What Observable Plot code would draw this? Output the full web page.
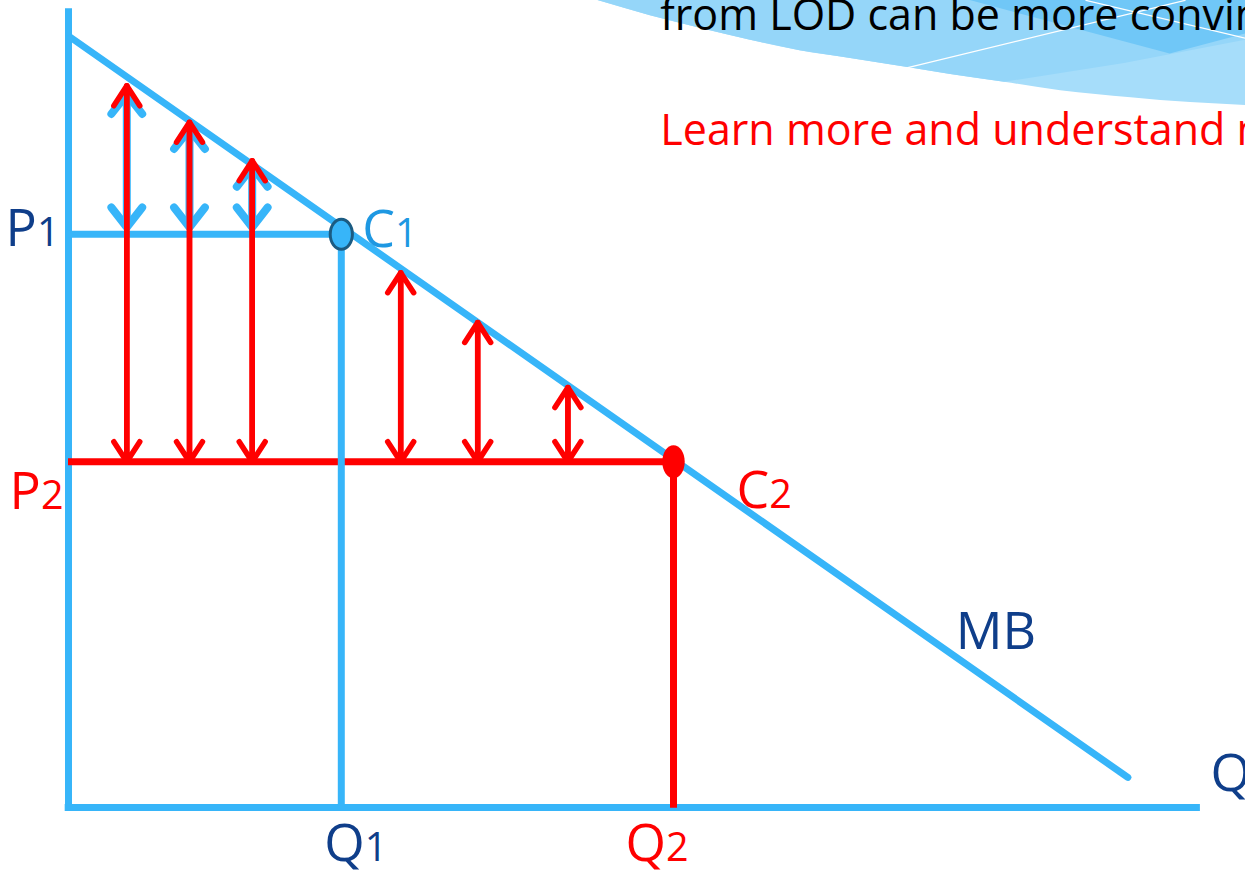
<!DOCTYPE html>
<html><head><meta charset="utf-8">
<script src="https://cdn.jsdelivr.net/npm/d3@7"></script>
<script src="https://cdn.jsdelivr.net/npm/@observablehq/plot@0.6"></script>
<style>html,body{margin:0;padding:0;overflow:hidden;background:#fff}</style>
</head><body><div id="chart"></div>
<script>
// ---- diagram values (quantity q, price p) ----
const Q1 = 24.8, Q2 = 55.0, P1 = 81.9, P2 = 49.4;
const mbQ = [0.2, 96.3];
const mbP = [110.0, 4.3];
const axisQmax = 102.9, axisPmax = 114.1;
const redArrowQ = [5.3, 11.0, 16.7, 30.2, 37.2, 45.4];
const redArrowTop = [103.1, 97.9, 92.4, 76.4, 69.3, 60.0];
const blueArrowQ = [5.3, 11.0, 16.7];
const blueArrowTop = [101.9, 96.9, 91.5];
const blueArrowBottom = 82.9;
const labelTexts = ["P1", "P2", "C1", "C2", "Q1", "Q2", "MB", "Q"];
const slideTexts = ["from LOD can be more convincing", "Learn more and understand more"];
const slideTextQ = 53.8;
const slideTextP = [111.1, 94.7];
// decorative swoosh outlines (same q,p space)
const swooshEdgeQ = [48.1, 52.9, 57.5, 62.0, 66.5, 71.1, 76.3, 80.2, 85.1, 90.2, 96.6, 102.0, 107.0];
const swooshEdgeP = [115.3, 113.1, 111.3, 109.6, 108.1, 107.0, 105.7, 104.7, 103.6, 102.4, 101.4, 100.7, 100.3];
const swooshMidQ = [48.1, 52.9, 57.5, 62.0, 66.5, 71.1, 76.3, 80.2, 85.1, 96.0, 107.0];
const swooshMidP = [115.3, 113.1, 111.3, 109.6, 108.1, 107.0, 105.7, 104.7, 103.6, 106.3, 109.6];
const swooshDarkQ = [80.4, 100.1, 107.0, 107.0];
const swooshDarkP = [116.0, 107.7, 110.6, 116.0];
const whiteLineA = {q: [76.3, 101.5], p: [105.7, 115.3]};
const whiteLineB = {q: [92.5, 107.0], p: [115.3, 109.9]};

const BLUE = "#37b5f9", NAVY = "#0f3e8a", RED = "#ff0000", CBLUE = "#1e98e2";

const zip = (Q, P) => Q.map((q, i) => ({q, p: P[i]}));
const redArrows = redArrowQ.map((q, i) => ({q, top: redArrowTop[i], bottom: P2}));
const blueArrows = blueArrowQ.map((q, i) => ({q, top: blueArrowTop[i], bottom: blueArrowBottom}));

const ellipse = (kx) => ({
  draw(ctx, size) {
    const r = Math.sqrt(size / Math.PI), rx = r * kx, ry = r, k = 0.5523;
    ctx.moveTo(rx, 0);
    ctx.bezierCurveTo(rx, k * ry, k * rx, ry, 0, ry);
    ctx.bezierCurveTo(-k * rx, ry, -rx, k * ry, -rx, 0);
    ctx.bezierCurveTo(-rx, -k * ry, -k * rx, -ry, 0, -ry);
    ctx.bezierCurveTo(k * rx, -ry, rx, -k * ry, rx, 0);
    ctx.closePath();
  }
});
// arrowhead chevron, apex at the anchor, pointing "up" before rotation
const chevron = {
  draw(ctx) {
    const a = 38 * Math.PI / 180, w = 25;
    ctx.moveTo(-w * Math.sin(a), w * Math.cos(a));
    ctx.lineTo(0, 0);
    ctx.lineTo(w * Math.sin(a), w * Math.cos(a));
  }
};

const labelSpec = [
  {q: 0, p: P1, anchor: "end", dx: -9, dy: 12, color: NAVY},
  {q: 0, p: P2, anchor: "end", dx: -5, dy: 47, color: RED},
  {q: Q1, p: P1, anchor: "start", dx: 21, dy: 13, color: CBLUE},
  {q: Q2, p: P2, anchor: "start", dx: 63, dy: 46, color: RED},
  {q: Q1, p: 0, anchor: "start", dx: -17, dy: 53, color: NAVY},
  {q: Q2, p: 0, anchor: "start", dx: -48, dy: 53, color: RED},
  {q: mbQ[1], p: mbP[1], anchor: "start", dx: -172, dy: -128, color: NAVY},
  {q: axisQmax, p: 0, anchor: "start", dx: 10, dy: -17, color: NAVY}
];

const FONT = "'Open Sans', 'Noto Sans', sans-serif";

const chart = Plot.plot({
  width: 1245, height: 871, margin: 0,
  x: {domain: [0, 100], range: [68, 1168], axis: null},
  y: {domain: [0, 100], range: [807, 107], axis: null},
  style: {background: "white"},
  marks: [
    // swoosh
    Plot.area(zip(swooshEdgeQ, swooshEdgeP), {x1: "q", y1: 117, y2: "p", fill: "#a6ddfa", curve: "monotone-x"}),
    Plot.area(zip(swooshMidQ, swooshMidP), {x1: "q", y1: 117, y2: "p", fill: "#95d6f9", curve: "linear"}),
    Plot.line(zip(swooshDarkQ, swooshDarkP), {x: "q", y: "p", fill: "#70c7f7", stroke: "none"}),
    Plot.line(zip(whiteLineA.q, whiteLineA.p), {x: "q", y: "p", stroke: "white", strokeWidth: 1.3}),
    Plot.line(zip(whiteLineB.q, whiteLineB.p), {x: "q", y: "p", stroke: "white", strokeWidth: 1.3}),
    // slide texts
    Plot.text([0], {x: () => slideTextQ, y: () => slideTextP[0], text: () => slideTexts[0], textAnchor: "start", lineAnchor: "bottom", fontSize: 43, fontFamily: FONT, fill: "black"}),
    Plot.text([0], {x: () => slideTextQ, y: () => slideTextP[1], text: () => slideTexts[1], textAnchor: "start", lineAnchor: "bottom", fontSize: 43, fontFamily: FONT, fill: RED}),
    // axes
    Plot.ruleX([0], {y1: -0.43, y2: axisPmax, stroke: BLUE, strokeWidth: 7}),
    Plot.ruleY([0], {x1: -0.3, x2: axisQmax, stroke: BLUE, strokeWidth: 7}),
    // MB curve
    Plot.line(zip(mbQ, mbP), {x: "q", y: "p", stroke: BLUE, strokeWidth: 7}),
    // P1 level
    Plot.ruleY([P1], {x1: 0, x2: Q1, stroke: BLUE, strokeWidth: 7}),
    // blue double arrows (shaft + chevrons)
    Plot.ruleX(blueArrows, {x: "q", y1: "bottom", y2: "top", stroke: BLUE, strokeWidth: 8}),
    Plot.vector(blueArrows, {x: "q", y: "top", length: 1, rotate: 0, anchor: "start", shape: chevron, stroke: BLUE, strokeWidth: 8}),
    Plot.vector(blueArrows, {x: "q", y: "bottom", length: 1, rotate: 180, anchor: "start", shape: chevron, stroke: BLUE, strokeWidth: 8}),
    // P2 level and Q2
    Plot.ruleY([P2], {x1: 0, x2: Q2, stroke: RED, strokeWidth: 7}),
    Plot.ruleX([Q2], {y1: P2, y2: -0.1, stroke: RED, strokeWidth: 7}),
    // Q1 vertical
    Plot.ruleX([Q1], {y1: 0, y2: P1, stroke: BLUE, strokeWidth: 7}),
    // red double arrows
    Plot.arrow(redArrows, {x: "q", y1: "bottom", y2: "top", stroke: RED, strokeWidth: 5.5, headLength: 6.5, headAngle: 66}),
    Plot.arrow(redArrows, {x: "q", y1: "top", y2: "bottom", stroke: RED, strokeWidth: 5.5, headLength: 6.5, headAngle: 66}),
    // equilibrium points
    Plot.dot([{q: Q1, p: P1}], {x: "q", y: "p", r: 15, symbol: ellipse(0.74), fill: BLUE, stroke: "#1b5b82", strokeWidth: 3}),
    Plot.dot([{q: Q2, p: P2}], {x: "q", y: "p", r: 16.5, symbol: ellipse(0.68), fill: RED, stroke: "none"}),
    // labels
    ...labelTexts.map((t, i) => {
      const s = labelSpec[i];
      return Plot.text([{q: s.q, p: s.p, t}], {x: "q", y: "p", text: "t", textAnchor: s.anchor, lineAnchor: "bottom",
        dx: s.dx, dy: s.dy, fill: s.color, fontSize: 52, fontFamily: FONT});
    })
  ]
});

// smaller figures after the letters (P1, C2, ...)
chart.querySelectorAll("text").forEach((el) => {
  const m = /^([A-Z]+)(\d)$/.exec(el.textContent);
  if (!m) return;
  el.textContent = m[1];
  const ts = document.createElementNS("http://www.w3.org/2000/svg", "tspan");
  ts.setAttribute("font-size", "0.76em");
  ts.textContent = m[2];
  el.appendChild(ts);
});

document.getElementById("chart").appendChild(chart);
</script>
</body></html>
